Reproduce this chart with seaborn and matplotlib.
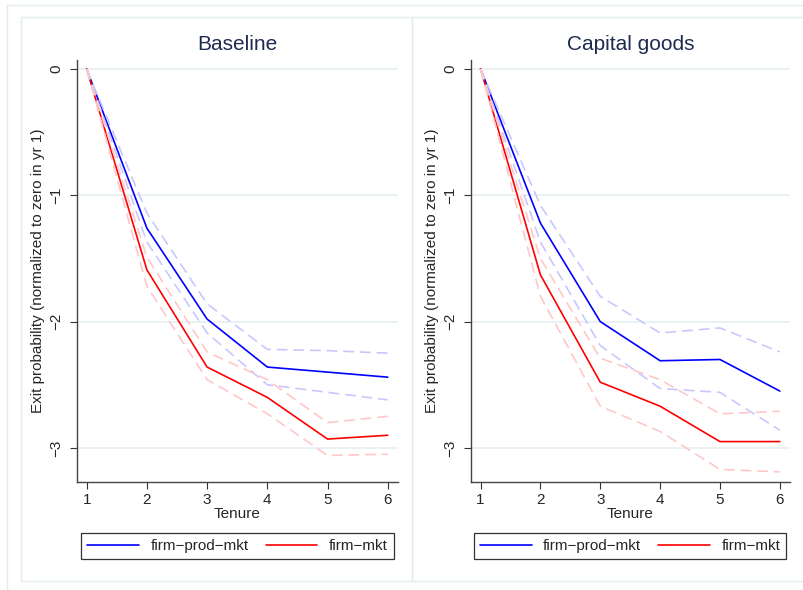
import matplotlib
matplotlib.use("Agg")
import matplotlib.pyplot as plt
import seaborn as sns
import pandas as pd
from matplotlib.patches import Rectangle
from matplotlib.lines import Line2D

# ---- data ----
tenure = [1, 2, 3, 4, 5, 6]
panels = ["Baseline", "Capital goods"]

base_fpm = [0.0, -1.26, -1.98, -2.36, -2.40, -2.44]
base_fpm_hi = [0.0, -1.14, -1.86, -2.22, -2.23, -2.25]
base_fpm_lo = [0.0, -1.37, -2.09, -2.50, -2.56, -2.62]
base_fm = [0.0, -1.59, -2.36, -2.60, -2.93, -2.90]
base_fm_hi = [0.0, -1.49, -2.24, -2.46, -2.80, -2.75]
base_fm_lo = [0.0, -1.72, -2.46, -2.73, -3.06, -3.05]

cap_fpm = [0.0, -1.22, -2.00, -2.31, -2.30, -2.55]
cap_fpm_hi = [0.0, -1.08, -1.80, -2.09, -2.05, -2.24]
cap_fpm_lo = [0.0, -1.37, -2.19, -2.53, -2.56, -2.86]
cap_fm = [0.0, -1.63, -2.48, -2.67, -2.95, -2.95]
cap_fm_hi = [0.0, -1.50, -2.29, -2.46, -2.73, -2.71]
cap_fm_lo = [0.0, -1.80, -2.67, -2.87, -3.17, -3.19]

series_names = ["firm\u2212prod\u2212mkt", "firm\u2212mkt"]
yticks = [0, -1, -2, -3]
ytick_labels = ["0", "\u22121", "\u22122", "\u22123"]

panel_data = {
    "Baseline": [(base_fpm, base_fpm_hi, base_fpm_lo), (base_fm, base_fm_hi, base_fm_lo)],
    "Capital goods": [(cap_fpm, cap_fpm_hi, cap_fpm_lo), (cap_fm, cap_fm_hi, cap_fm_lo)],
}

sns.set_theme(style="white")
plt.rcParams["font.family"] = ["Liberation Sans", "DejaVu Sans"]

W, H = 804, 590
fig = plt.figure(figsize=(W / 100, H / 100), dpi=100)
fig.patch.set_facecolor("white")

def fx(px):
    return px / W

def fy(py):
    return 1 - py / H

# borders (outer graph region + two panel regions)
border_col = "#e2ecee"
for (x0, y0, x1, y1) in [(7, 4.5, 830, 620), (21, 17, 412, 581), (412, 17, 830, 581)]:
    fig.patches.append(Rectangle((fx(x0), fy(y1)), fx(x1) - fx(x0), fy(y0) - fy(y1),
                                 transform=fig.transFigure, fill=False,
                                 edgecolor=border_col, linewidth=1.0, zorder=0))

axes_px = [(77, 398), (471, 790)]
legend_px = [(82.3, 392.7), (475, 785)]
main_cols = ["#0000ff", "#ff0000"]
ci_cols = ["#c8c8ff", "#ffc8c8"]
FS = 11

for i, name in enumerate(panels):
    x0, x1 = axes_px[i]
    ax = fig.add_axes([fx(x0), fy(482), fx(x1) - fx(x0), fy(60) - fy(482)])
    ax.set_facecolor("white")
    for yt in yticks:
        ax.axhline(yt, color="#e8f0f1", linewidth=1.3, zorder=0)
    for s, (mid, hi, lo) in enumerate(panel_data[name]):
        df = pd.DataFrame({"tenure": tenure, "value": mid})
        sns.lineplot(data=df, x="tenure", y="value", ax=ax, color=main_cols[s],
                     linewidth=1.2, zorder=2, legend=False)
    for s, (mid, hi, lo) in enumerate(panel_data[name]):
        for band in (hi, lo):
            dfb = pd.DataFrame({"tenure": tenure, "value": band})
            sns.lineplot(data=dfb, x="tenure", y="value", ax=ax, color=ci_cols[s],
                         linewidth=1.2, zorder=3, legend=False)
            ax.lines[-1].set_dashes([6.5, 3.5])
    ax.set_xlim(0.84, 6.17)
    ax.set_ylim(-3.27, 0.071)
    ax.set_xticks(tenure)
    ax.set_xticklabels([str(t) for t in tenure], fontsize=FS)
    ax.set_yticks(yticks)
    ax.set_yticklabels(ytick_labels, fontsize=FS, rotation=90, va="center")
    ax.tick_params(axis="both", direction="out", length=5, width=0.8, color="#333333",
                   left=True, bottom=True)
    ax.tick_params(axis="y", pad=5)
    ax.tick_params(axis="x", pad=3)
    for side in ["top", "right"]:
        ax.spines[side].set_visible(False)
    for side in ["left", "bottom"]:
        ax.spines[side].set_color("#444444")
        ax.spines[side].set_linewidth(1.0)
    ax.set_xlabel("Tenure", fontsize=FS, labelpad=0)
    ax.set_ylabel("Exit probability (normalized to zero in yr 1)", fontsize=FS, labelpad=3)
    ax.set_title(name, fontsize=15, color="#1e2b50", pad=7)
    handles = [Line2D([], [], color=c, linewidth=1.2) for c in main_cols]
    lx0, lx1 = legend_px[i]
    leg = fig.legend(handles, series_names, loc="center",
                     bbox_to_anchor=(fx((lx0 + lx1) / 2), fy(546.2)),
                     ncol=2, frameon=True, fontsize=FS, handlelength=3.4,
                     columnspacing=1.1, handletextpad=0.75, borderpad=0.4,
                     fancybox=False, edgecolor="black")
    leg.get_frame().set_linewidth(0.9)

fig.savefig("out.png", dpi=100, facecolor="white")
